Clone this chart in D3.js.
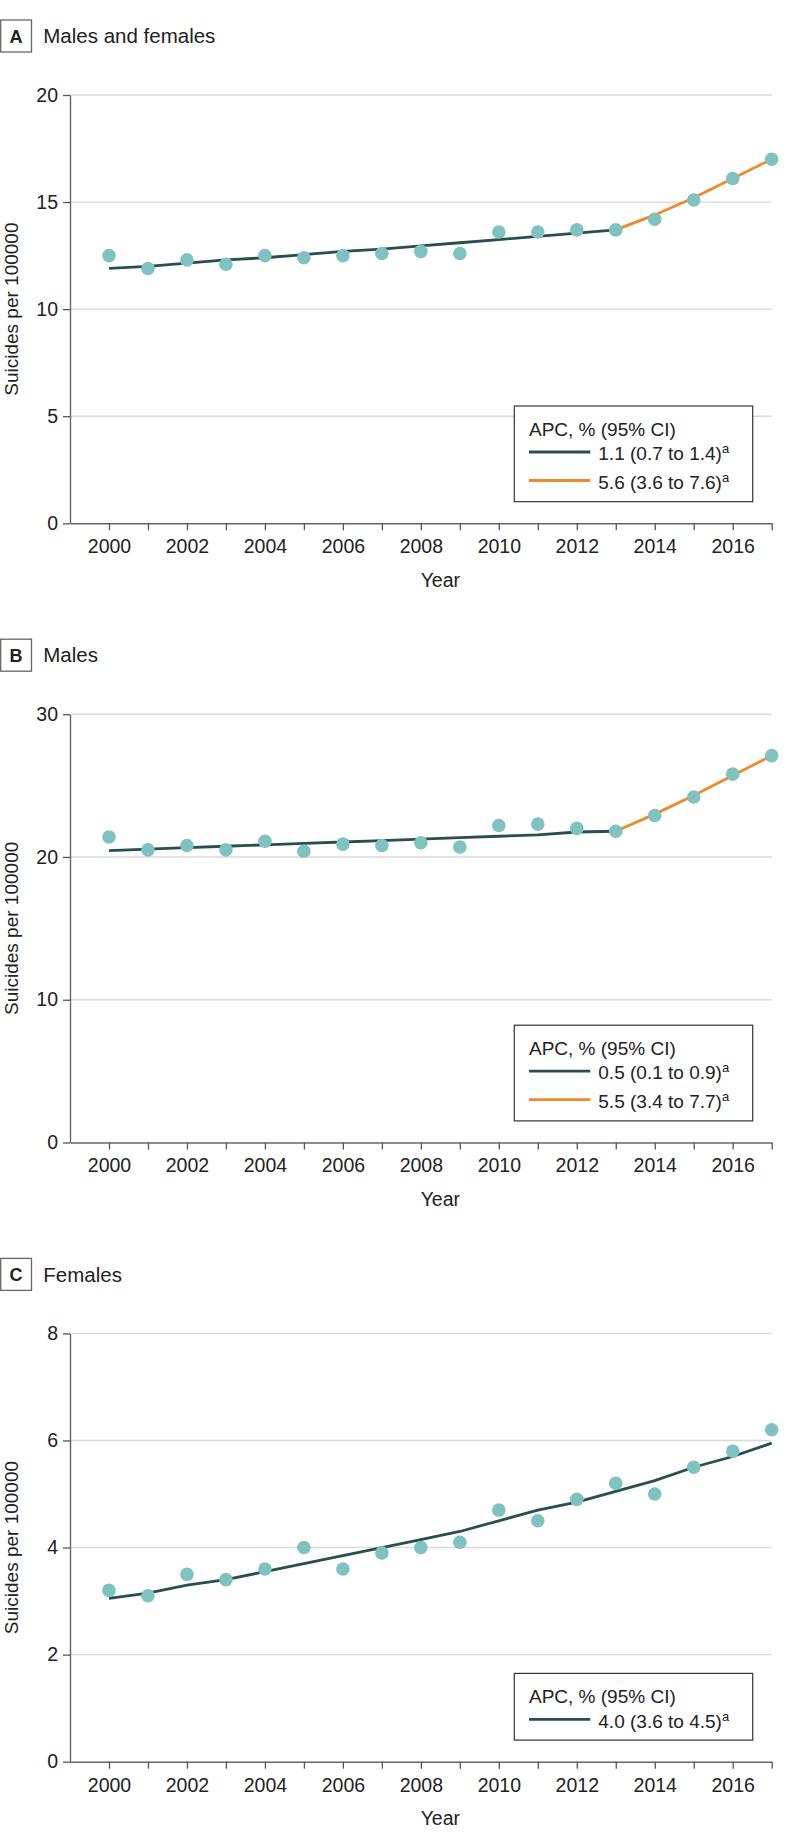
<!DOCTYPE html>
<html>
<head>
<meta charset="utf-8">
<script src="https://cdn.jsdelivr.net/npm/d3@7"></script>
<style>
  body { margin: 0; background: #fff; }
  svg { display: block; font-family: "Liberation Sans", Arial, sans-serif; }
</style>
</head>
<body>
<svg id="chart" width="798" height="1848"></svg>
<script>
// years shown on the x axis
var years = [2000, 2001, 2002, 2003, 2004, 2005, 2006, 2007, 2008, 2009,
             2010, 2011, 2012, 2013, 2014, 2015, 2016, 2017];
var earlyYears = [2000, 2001, 2002, 2003, 2004, 2005, 2006, 2007, 2008, 2009, 2010, 2011, 2012, 2013];
var lateYears = [2013, 2014, 2015, 2016, 2017];
var xTickLabels = [2000, 2002, 2004, 2006, 2008, 2010, 2012, 2014, 2016];

// A: males and females
var bothRates = [12.5, 11.9, 12.3, 12.1, 12.5, 12.4, 12.5, 12.6, 12.7, 12.6,
                 13.6, 13.6, 13.7, 13.7, 14.2, 15.1, 16.1, 17.0];
var bothTrendEarly = [11.9, 12.0, 12.15, 12.3, 12.4, 12.55, 12.7, 12.8, 12.95, 13.1, 13.25, 13.4, 13.55, 13.7];
var bothTrendLate = [13.7, 14.4, 15.2, 16.1, 17.0];
var bothTicks = [0, 5, 10, 15, 20];
var bothLegend = ["1.1 (0.7 to 1.4)", "5.6 (3.6 to 7.6)"];

// B: males
var maleRates = [21.4, 20.5, 20.8, 20.5, 21.1, 20.4, 20.9, 20.8, 21.0, 20.7,
                 22.2, 22.3, 22.0, 21.8, 22.9, 24.2, 25.8, 27.1];
var maleTrendEarly = [20.45, 20.55, 20.65, 20.75, 20.85, 20.95, 21.05, 21.15, 21.25, 21.35, 21.45, 21.55, 21.75, 21.8];
var maleTrendLate = [21.8, 23.0, 24.3, 25.7, 27.1];
var maleTicks = [0, 10, 20, 30];
var maleLegend = ["0.5 (0.1 to 0.9)", "5.5 (3.4 to 7.7)"];

// C: females
var femaleRates = [3.2, 3.1, 3.5, 3.4, 3.6, 4.0, 3.6, 3.9, 4.0, 4.1,
                   4.7, 4.5, 4.9, 5.2, 5.0, 5.5, 5.8, 6.2];
var femaleTrend = [3.05, 3.15, 3.3, 3.4, 3.55, 3.7, 3.85, 4.0, 4.15, 4.3,
                   4.5, 4.7, 4.85, 5.05, 5.25, 5.5, 5.7, 5.95];
var femaleTicks = [0, 2, 4, 6, 8];
var femaleLegend = ["4.0 (3.6 to 4.5)"];

var DARK = "#27504d", ORANGE = "#f0892a", DOT = "#80c2bf";

var panels = [
  { letter: "A", title: "Males and females", rates: bothRates, ticks: bothTicks,
    trends: [{ x: earlyYears, y: bothTrendEarly, color: DARK, label: bothLegend[0] },
             { x: lateYears, y: bothTrendLate, color: ORANGE, label: bothLegend[1] }] },
  { letter: "B", title: "Males", rates: maleRates, ticks: maleTicks,
    trends: [{ x: earlyYears, y: maleTrendEarly, color: DARK, label: maleLegend[0] },
             { x: lateYears, y: maleTrendLate, color: ORANGE, label: maleLegend[1] }] },
  { letter: "C", title: "Females", rates: femaleRates, ticks: femaleTicks,
    trends: [{ x: years, y: femaleTrend, color: DARK, label: femaleLegend[0] }] }
];

var svg = d3.select("#chart");
var plotTop = 95, plotBottom = 523.3, plotLeft = 70, plotRight = 771.7;
var panelStep = 619.2;

var x = d3.scaleLinear().domain([1999, 2017]).range([plotLeft, plotRight]);

panels.forEach(function(p, i) {
  var g = svg.append("g").attr("transform", "translate(0," + (i * panelStep) + ")");
  var y = d3.scaleLinear().domain([0, d3.max(p.ticks)]).range([plotBottom, plotTop]);

  // panel letter box + title
  g.append("rect").attr("x", 0.7).attr("y", 20).attr("width", 30.8).attr("height", 32)
    .attr("fill", "none").attr("stroke", "#666").attr("stroke-width", 1.3);
  g.append("text").attr("x", 16).attr("y", 42.5).attr("text-anchor", "middle")
    .style("font-size", "18px").style("font-weight", "bold").attr("fill", "#222").text(p.letter);
  g.append("text").attr("x", 43.3).attr("y", 43.2)
    .style("font-size", "20.5px").attr("fill", "#222").text(p.title);

  // gridlines
  g.selectAll(".grid").data(p.ticks.filter(function(d) { return d > 0; }))
    .enter().append("line")
    .attr("x1", plotLeft).attr("x2", plotRight)
    .attr("y1", function(d) { return y(d); }).attr("y2", function(d) { return y(d); })
    .attr("stroke", "#d9d9d9").attr("stroke-width", 1.4);

  // axes
  var yAxis = g.append("g").attr("transform", "translate(" + plotLeft + ",0)")
    .call(d3.axisLeft(y).tickValues(p.ticks).tickSize(7).tickSizeOuter(0).tickPadding(5));
  var xAxis = g.append("g").attr("transform", "translate(0," + plotBottom + ")")
    .call(d3.axisBottom(x).tickValues(years).tickSize(7).tickSizeOuter(0).tickPadding(9)
      .tickFormat(function(d) { return xTickLabels.indexOf(d) >= 0 ? d : ""; }));
  [yAxis, xAxis].forEach(function(ax) {
    ax.selectAll("text").style("font-size", "19.5px").attr("fill", "#222")
      .style("font-family", "'Liberation Sans', Arial, sans-serif");
    ax.selectAll("line").attr("stroke", "#555").attr("stroke-width", 1.3);
    ax.select(".domain").attr("stroke", "#666").attr("stroke-width", 1.4);
  });

  // axis titles
  g.append("text").attr("x", x(2008.5)).attr("y", 587).attr("text-anchor", "middle")
    .style("font-size", "19.5px").attr("fill", "#222").text("Year");
  g.append("text").attr("transform", "translate(17.5," + ((plotTop + plotBottom) / 2) + ") rotate(-90)")
    .attr("text-anchor", "middle").style("font-size", "19px").attr("fill", "#222")
    .text("Suicides per 100000");

  // trend lines
  var line = d3.line().x(function(d) { return x(d[0]); }).y(function(d) { return y(d[1]); });
  p.trends.forEach(function(t) {
    g.append("path").datum(d3.zip(t.x, t.y)).attr("d", line)
      .attr("fill", "none").attr("stroke", t.color).attr("stroke-width", 2.8);
  });

  // observed rates
  g.selectAll(".dot").data(d3.zip(years, p.rates)).enter().append("circle")
    .attr("cx", function(d) { return x(d[0]); }).attr("cy", function(d) { return y(d[1]); })
    .attr("r", 6.8).attr("fill", DOT);

  // legend
  var lgH = 37.7 + 29 * p.trends.length;
  var lgTop = 501.7 - lgH;
  var lg = g.append("g").attr("transform", "translate(514.3," + lgTop + ")");
  lg.append("rect").attr("width", 238.4).attr("height", lgH)
    .attr("fill", "#fff").attr("stroke", "#333").attr("stroke-width", 1.2);
  lg.append("text").attr("x", 14.7).attr("y", 29.5).style("font-size", "19px").attr("fill", "#222")
    .text("APC, % (95% CI)");
  p.trends.forEach(function(t, k) {
    var ly = 46 + 28.5 * k;
    lg.append("line").attr("x1", 14.7).attr("x2", 76).attr("y1", ly).attr("y2", ly)
      .attr("stroke", t.color).attr("stroke-width", 2.8);
    var tx = lg.append("text").attr("x", 84).attr("y", ly + 8.3).style("font-size", "19px").attr("fill", "#222");
    tx.append("tspan").text(t.label);
    tx.append("tspan").attr("dy", -7).style("font-size", "13px").text("a");
  });
});
</script>
</body>
</html>
